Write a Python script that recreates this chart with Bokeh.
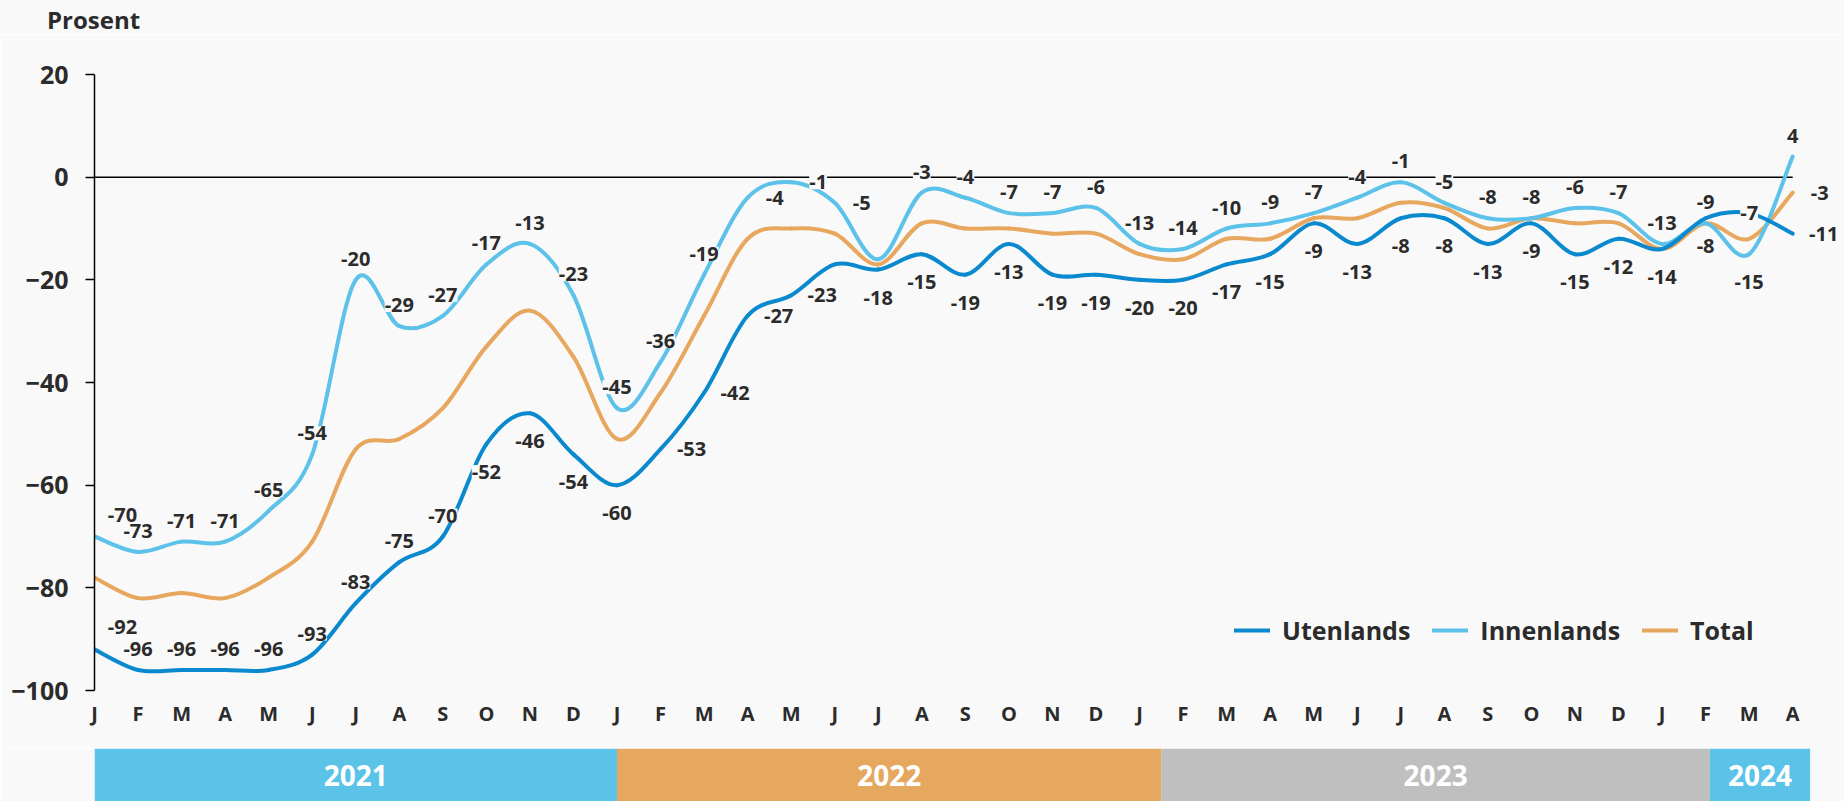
import numpy as np
from bokeh.plotting import figure
from bokeh.layouts import column
from bokeh.models import (ColumnDataSource, Range1d, FixedTicker, LabelSet, Legend,
                          LegendItem, Div)
from bokeh.embed import file_html
from bokeh.resources import INLINE
from bokeh.core.properties import value

# ---------------- data ----------------
months = ["J", "F", "M", "A", "M", "J", "J", "A", "S", "O", "N", "D"] * 3 + ["J", "F", "M", "A"]

utenlands = [-92, -96, -96, -96, -96, -93, -83, -75, -70, -52, -46, -54,
             -60, -53, -42, -27, -23, -17, -18, -15, -19, -13, -19, -19,
             -20, -20, -17, -15, -9, -13, -8, -8, -13, -9, -15, -12,
             -14, -8, -7, -11]
innenlands = [-70, -73, -71, -71, -65, -54, -20, -29, -27, -17, -13, -23,
              -45, -36, -19, -4, -1, -5, -16, -3, -4, -7, -7, -6,
              -13, -14, -10, -9, -7, -4, -1, -5, -8, -8, -6, -7,
              -13, -9, -15, 4]
total = [-78, -82, -81, -82, -78, -71, -53, -51, -45, -33, -26, -35,
         -51, -42, -27, -12, -10, -11, -17, -9, -10, -10, -11, -11,
         -15, -16, -12, -12, -8, -8, -5, -6, -10, -8, -9, -9,
         -14, -9, -12, -3]

series_names = ["Utenlands", "Innenlands", "Total"]
unit_label = "Prosent"

years = ["2021", "2022", "2023", "2024"]
year_start = [0.0, 12.0, 24.5, 37.1]
year_end = [12.0, 24.5, 37.1, 39.4]

y_ticks = [20, 0, -20, -40, -60, -80, -100]

# ---------------- label placement (style, not data) ----------------
# a = above, b = below, r = right, c = centred on the line, ar = above-right, n = none
place_ut = (["ar"] + ["a"] * 8 + ["b"] * 3 +
            ["b", "r", "r", "r", "r", "n"] + ["b"] * 6 +
            ["b"] * 12 +
            ["b", "b", "c", "r"])
place_in = (["ar"] + ["a"] * 11 +
            ["a", "a", "a", "ri", "ri", "ri", "n"] + ["a"] * 5 +
            ["a"] * 12 +
            ["a", "a", "b", "a"])
place_to = ["n"] * 39 + ["ri"]
OFFS = {"a": (0, 21), "b": (0, -28), "r": (31, 0), "ri": (27, 0), "c": (0, 0),
        "ar": (28, 22)}

C_UT = "#0A89CF"
C_IN = "#5CC2E9"
C_TO = "#E8A75E"
BG = "#F9F9F9"
TXT = "#2B2B2B"
FONT = "Open Sans"

x = list(range(len(months)))


def bezier_source(xs, ys, t=1.0 / 6.0):
    xa = np.asarray(xs, float)
    ya = np.asarray(ys, float)
    xp = np.concatenate([[xa[0]], xa, [xa[-1]]])
    yp = np.concatenate([[ya[0]], ya, [ya[-1]]])
    n = len(xa)
    return ColumnDataSource(dict(
        x0=xa[:-1], y0=ya[:-1], x1=xa[1:], y1=ya[1:],
        cx0=xa[:-1] + (xa[1:] - xp[:n - 1]) * t,
        cy0=ya[:-1] + (ya[1:] - yp[:n - 1]) * t,
        cx1=xa[1:] - (xp[3:] - xa[:-1]) * t,
        cy1=ya[1:] - (yp[3:] - ya[:-1]) * t,
    ))


def label_source(vals, places):
    xs, ys, txt, dx, dy = [], [], [], [], []
    for i, (v, pl) in enumerate(zip(vals, places)):
        if pl == "n":
            continue
        xs.append(i)
        ys.append(v)
        txt.append(str(v))
        dx.append(OFFS[pl][0])
        dy.append(OFFS[pl][1])
    return ColumnDataSource(dict(x=xs, y=ys, text=txt, dx=dx, dy=dy))


# ---------------- header with the unit ----------------
header = Div(text=unit_label, width=1844, height=34, margin=(0, 0, 0, 0),
             styles={"font-family": FONT, "font-size": "24px", "font-weight": "bold",
                     "color": TXT, "background-color": BG, "box-sizing": "border-box",
                     "padding-left": "47px", "padding-top": "5px", "line-height": "29px"})

# ---------------- main chart ----------------
xr = Range1d(0, 40.19)

p = figure(width=1844, height=714, x_range=xr, y_range=Range1d(-100, 20),
           output_backend="svg", toolbar_location=None,
           background_fill_color=BG, border_fill_color=BG, outline_line_color=None,
           min_border_left=94, min_border_right=0, min_border_top=40, min_border_bottom=58)

p.xgrid.visible = False
p.ygrid.visible = False

p.yaxis.ticker = FixedTicker(ticks=y_ticks)
p.yaxis.bounds = (-100, 20)
p.yaxis.axis_line_color = "black"
p.yaxis.axis_line_width = 1.5
p.yaxis.major_tick_line_color = "black"
p.yaxis.major_tick_line_width = 1.5
p.yaxis.major_tick_out = 9
p.yaxis.major_tick_in = 0
p.yaxis.minor_tick_line_color = None
p.yaxis.major_label_standoff = 17
p.yaxis.major_label_text_font = FONT
p.yaxis.major_label_text_font_size = "25px"
p.yaxis.major_label_text_font_style = "bold"
p.yaxis.major_label_text_color = TXT

p.xaxis.ticker = FixedTicker(ticks=x)
p.xaxis.major_label_overrides = {i: m for i, m in enumerate(months)}
p.xaxis.axis_line_color = None
p.xaxis.major_tick_line_color = None
p.xaxis.minor_tick_line_color = None
p.xaxis.major_tick_out = 0
p.xaxis.major_label_standoff = 9
p.xaxis.major_label_text_font = FONT
p.xaxis.major_label_text_font_size = "20px"
p.xaxis.major_label_text_font_style = "bold"
p.xaxis.major_label_text_color = TXT

# zero line across the months
p.segment(x0=[x[0]], x1=[x[-1]], y0=[0], y1=[0], line_color="black", line_width=1.5,
          level="underlay")

renderers = {}
for name, vals, col in (("Total", total, C_TO), ("Innenlands", innenlands, C_IN),
                        ("Utenlands", utenlands, C_UT)):
    renderers[name] = p.bezier(x0="x0", y0="y0", x1="x1", y1="y1", cx0="cx0", cy0="cy0",
                               cx1="cx1", cy1="cy1", source=bezier_source(x, vals),
                               line_color=col, line_width=4, line_cap="round")

for vals, places in ((utenlands, place_ut), (innenlands, place_in), (total, place_to)):
    p.add_layout(LabelSet(x="x", y="y", text="text", x_offset="dx", y_offset="dy",
                          source=label_source(vals, places),
                          text_font=value(FONT), text_font_size="20px", text_font_style="bold",
                          text_color=TXT, text_align="center", text_baseline="middle",
                          background_fill_color=BG))

legend = Legend(items=[LegendItem(label=n, renderers=[renderers[n]]) for n in series_names],
                location=(1140, 43), orientation="horizontal",
                background_fill_alpha=0, border_line_color=None,
                glyph_width=36, label_standoff=12, spacing=22, padding=0, margin=0,
                label_text_font=FONT, label_text_font_size="25px",
                label_text_font_style="bold", label_text_color=TXT)
p.add_layout(legend)

# ---------------- year band ----------------
q = figure(width=1844, height=53, x_range=xr, y_range=Range1d(0, 1),
           output_backend="svg", toolbar_location=None,
           background_fill_color=BG, border_fill_color=BG, outline_line_color=None,
           min_border_left=94, min_border_right=0, min_border_top=0, min_border_bottom=0)
q.axis.visible = False
q.grid.visible = False
ysrc = ColumnDataSource(dict(left=year_start, right=year_end, year=years,
                             mid=[(a + b) / 2 for a, b in zip(year_start, year_end)],
                             color=["#5BC3E7", "#E6A75F", "#BFBFBF", "#5BC3E7"]))
q.quad(left="left", right="right", bottom=0, top=1, source=ysrc, fill_color="color",
       line_color=None)
q.text(x="mid", y=0.5, text="year", source=ysrc, text_font=value(FONT), text_font_size="28px",
       text_font_style="bold", text_color="white", text_align="center", text_baseline="middle")

layout = column(header, p, q, spacing=0)
open("out.html", "w").write(file_html(layout, INLINE))
